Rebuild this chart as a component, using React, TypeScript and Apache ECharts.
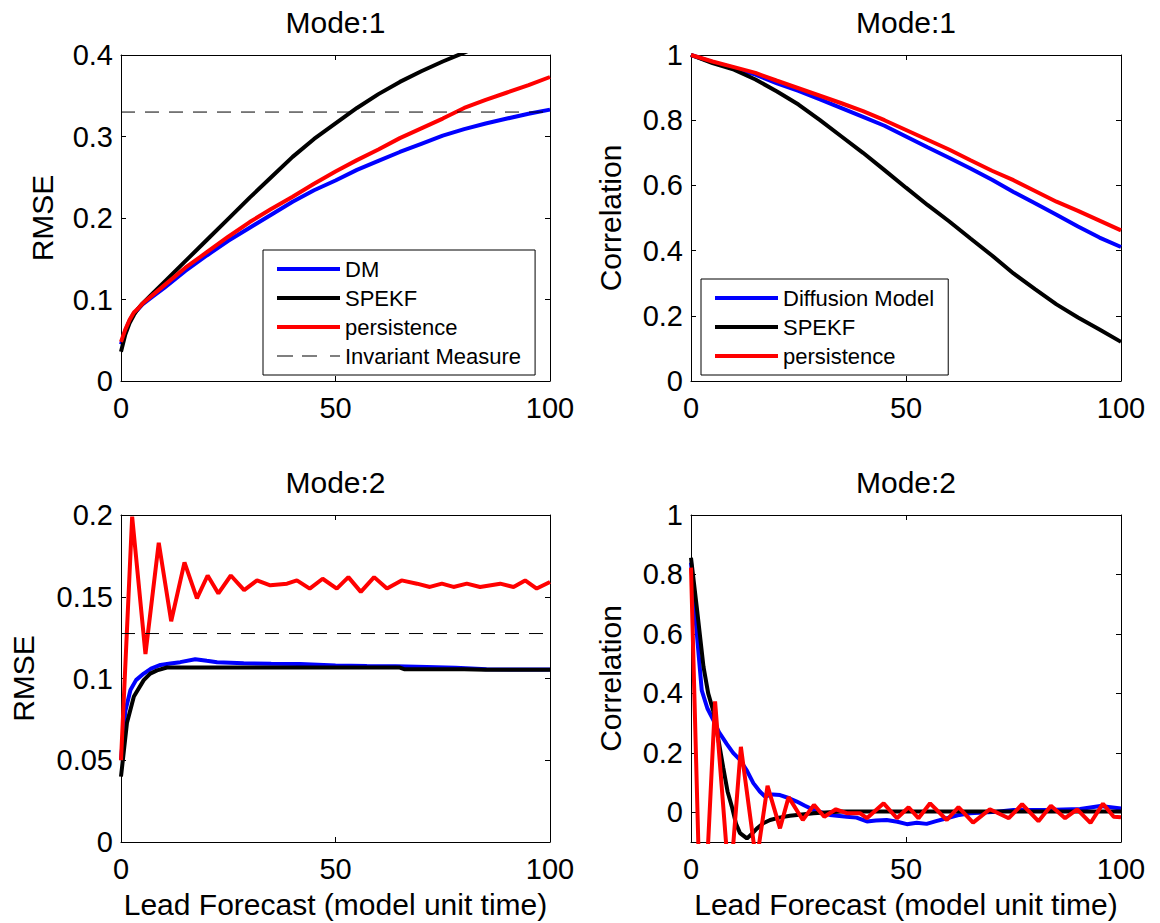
import React, { useEffect, useRef } from 'react';
import * as echarts from 'echarts';

const FONT = "'Liberation Sans', Arial, Helvetica, sans-serif";

// ---- texts ----
const titles = ['Mode:1', 'Mode:1', 'Mode:2', 'Mode:2'];
const rmseName = 'RMSE';
const corrName = 'Correlation';
const xName = 'Lead Forecast (model unit time)';

// ---- Mode 1 RMSE ----
const m1RmseX = [0, 1, 2, 3, 4, 5, 7.5, 10, 15, 20, 25, 30, 35, 40, 45, 50, 55, 60, 65, 70, 75, 80, 85, 90, 95, 100];
const m1RmseDM = [0.045, 0.062, 0.074, 0.083, 0.088, 0.094, 0.104, 0.114, 0.135, 0.154, 0.172, 0.188, 0.204, 0.22, 0.234, 0.246, 0.259, 0.27, 0.281, 0.291, 0.301, 0.309, 0.316, 0.322, 0.328, 0.333];
const m1RmseSPEKF = [0.036, 0.057, 0.071, 0.081, 0.089, 0.095, 0.108, 0.121, 0.147, 0.173, 0.199, 0.225, 0.25, 0.275, 0.297, 0.316, 0.335, 0.352, 0.367, 0.38, 0.392, 0.403, 0.414, 0.426, 0.437, 0.448];
const m1RmsePers = [0.048, 0.063, 0.075, 0.084, 0.089, 0.095, 0.106, 0.117, 0.139, 0.158, 0.177, 0.195, 0.211, 0.226, 0.242, 0.257, 0.271, 0.284, 0.298, 0.31, 0.322, 0.335, 0.345, 0.354, 0.363, 0.373];
const m1Invariant = 0.33;

// ---- Mode 1 Correlation ----
const m1CorrX = [0, 5, 10, 15, 20, 25, 30, 35, 40, 45, 50, 55, 60, 65, 70, 75, 80, 85, 90, 95, 100];
const m1CorrDM = [1, 0.978, 0.96, 0.94, 0.913, 0.89, 0.864, 0.837, 0.81, 0.783, 0.75, 0.717, 0.685, 0.652, 0.617, 0.58, 0.545, 0.51, 0.474, 0.44, 0.411];
const m1CorrSPEKF = [1, 0.975, 0.955, 0.925, 0.888, 0.848, 0.8, 0.75, 0.7, 0.647, 0.593, 0.54, 0.49, 0.437, 0.385, 0.33, 0.282, 0.235, 0.195, 0.158, 0.12];
const m1CorrPers = [1, 0.98, 0.963, 0.945, 0.921, 0.898, 0.875, 0.852, 0.828, 0.8, 0.77, 0.74, 0.71, 0.677, 0.645, 0.616, 0.583, 0.55, 0.522, 0.492, 0.462];

// ---- Mode 2 RMSE ([lead, value]) ----
const m2RmseDM = [[0, 0.05], [1, 0.08], [2.2, 0.093], [3.5, 0.099], [5.3, 0.103], [7, 0.106], [9.2, 0.1083], [11.5, 0.1092], [13.8, 0.11], [17.3, 0.1118], [20, 0.1108], [22.4, 0.11], [28.6, 0.1094], [35, 0.109], [41.8, 0.1088], [50, 0.108], [57.3, 0.1077], [64, 0.1075], [71.3, 0.107], [78, 0.1065], [85.2, 0.1057], [92, 0.1055], [100, 0.1055]];
const m2RmseSPEKF = [[0, 0.04], [1.4, 0.073], [3, 0.089], [5.3, 0.099], [6.8, 0.103], [8.4, 0.105], [10.7, 0.1067], [20, 0.1067], [40, 0.1067], [65, 0.1067], [66, 0.1057], [80, 0.1057], [85, 0.1053], [100, 0.1053]];
const m2RmsePers = [[0, 0.05], [2.6, 0.199], [5.7, 0.115], [8.8, 0.183], [11.7, 0.135], [14.8, 0.171], [17.7, 0.149], [20.2, 0.163], [22.7, 0.152], [25.6, 0.163], [28.7, 0.154], [31.7, 0.16], [34.8, 0.157], [38.7, 0.158], [41, 0.16], [44, 0.155], [47, 0.161], [50.3, 0.155], [53, 0.162], [55.9, 0.153], [59, 0.162], [62, 0.155], [65.4, 0.16], [69, 0.158], [72, 0.156], [74.8, 0.158], [77.5, 0.156], [80.6, 0.158], [83.7, 0.156], [88.4, 0.158], [91.5, 0.156], [94.2, 0.16], [96.9, 0.155], [100, 0.159]];
const m2Invariant = 0.1275;

// ---- Mode 2 Correlation ([lead, value]) ----
const m2CorrDM = [[0, 0.84], [1, 0.66], [2.5, 0.41], [3.8, 0.35], [5.2, 0.31], [6.5, 0.27], [8.3, 0.23], [9.8, 0.2], [11.4, 0.176], [13, 0.14], [14.5, 0.098], [16, 0.07], [17.2, 0.053], [19, 0.06], [20.7, 0.058], [22.7, 0.048], [24.6, 0.036], [26.5, 0.022], [28.5, 0.008], [32.3, -0.009], [36.2, -0.015], [38.5, -0.018], [40.9, -0.031], [43, -0.028], [45.5, -0.026], [48, -0.032], [50.2, -0.04], [52.5, -0.035], [54.8, -0.039], [57, -0.03], [59.5, -0.02], [62, -0.01], [64.9, -0.003], [71.1, 0.002], [75, 0.008], [82.8, 0.008], [90.5, 0.011], [95.2, 0.021], [100, 0.013]];
const m2CorrSPEKF = [[0, 0.856], [1.5, 0.67], [2.9, 0.49], [4, 0.4], [5.2, 0.34], [6.3, 0.25], [7.5, 0.15], [8.5, 0.07], [9.5, 0.019], [10.5, -0.04], [11.4, -0.07], [13, -0.088], [14, -0.075], [15.3, -0.055], [16.8, -0.037], [18.4, -0.026], [20.5, -0.018], [23, -0.012], [28.5, -0.003], [35, 0.003], [50, 0.003], [70, 0.003], [100, 0.003]];
const m2CorrPers = [[0, 0.823], [2.5, -0.54], [5.6, 0.373], [9, -0.26], [11.6, 0.22], [15.2, -0.17], [17.8, 0.089], [20.7, -0.054], [22.7, 0.051], [26, -0.026], [28.6, 0.025], [31, -0.015], [33.7, 0.01], [36.2, -0.003], [39.3, -0.003], [40.9, -0.02], [44.8, 0.03], [47.9, -0.02], [50.6, 0.017], [52.9, -0.02], [55.6, 0.03], [59.5, -0.026], [62.2, 0.017], [65.6, -0.035], [69.5, 0.01], [73.9, -0.02], [77, 0.027], [80.8, -0.03], [83.7, 0.022], [87, -0.02], [89.8, 0.01], [92.9, -0.036], [95.8, 0.029], [98.3, -0.015], [100, -0.017]];

// ---- axes ----
const xTicks = { min: 0, max: 100, interval: 50 };
const yAxesDef = [
  { min: 0, max: 0.4, interval: 0.1, ticks: null as number[] | null, name: rmseName, gap: 64 },
  { min: 0, max: 1, interval: 0.2, ticks: null as number[] | null, name: corrName, gap: 66 },
  { min: 0, max: 0.2, interval: 0.05, ticks: null as number[] | null, name: rmseName, gap: 83 },
  { min: -0.1, max: 1, interval: 0.1, ticks: [0, 0.2, 0.4, 0.6, 0.8, 1], name: corrName, gap: 66 },
];

const BLUE = '#0000ff';
const BLACK = '#000000';
const RED = '#ff0000';

const zip = (xs: number[], ys: number[]) => xs.map((x, i) => [x, ys[i]]);

export default function App() {
  const ref = useRef<HTMLDivElement>(null);
  useEffect(() => {
    if (!ref.current) return;
    const chart = echarts.init(ref.current, null, { renderer: 'svg' });

    const grids = [
      { left: 121, top: 55, width: 429, height: 326 },
      { left: 691, top: 55, width: 430, height: 326 },
      { left: 121, top: 515, width: 429, height: 327 },
      { left: 691, top: 515, width: 430, height: 327 },
    ];

    const lbl = { fontSize: 29, color: '#000', fontFamily: FONT, lineHeight: 30 };
    const nameStyle = { fontSize: 30, color: '#000', fontFamily: FONT, lineHeight: 30 };
    const axLine = { show: true, onZero: false, lineStyle: { color: '#000', width: 1 } };
    const tick = { show: true, inside: true, length: 5, lineStyle: { color: '#000', width: 1 } };

    const xAxis: any[] = [];
    const yAxis: any[] = [];
    grids.forEach((_, g) => {
      const bottomRow = g >= 2;
      xAxis.push({
        type: 'value', gridIndex: g, position: 'bottom', ...xTicks,
        axisLine: axLine, axisTick: tick,
        axisLabel: { ...lbl, margin: 12 },
        splitLine: { show: false },
        name: bottomRow ? xName : '', nameLocation: 'middle', nameGap: 47, nameTextStyle: nameStyle,
      });
      xAxis.push({
        type: 'value', gridIndex: g, position: 'top', ...xTicks,
        axisLine: axLine, axisTick: tick, axisLabel: { show: false }, splitLine: { show: false },
      });
      const d = yAxesDef[g];
      const tickExtra = d.ticks ? { customValues: d.ticks } : {};
      yAxis.push({
        type: 'value', gridIndex: g, position: 'left', min: d.min, max: d.max, interval: d.interval,
        axisLine: axLine, axisTick: { ...tick, ...tickExtra },
        axisLabel: { ...lbl, margin: 8, ...tickExtra },
        splitLine: { show: false },
        name: d.name, nameLocation: 'middle', nameGap: d.gap, nameTextStyle: nameStyle,
      });
      yAxis.push({
        type: 'value', gridIndex: g, position: 'right', min: d.min, max: d.max, interval: d.interval,
        axisLine: axLine, axisTick: { ...tick, ...tickExtra }, axisLabel: { show: false }, splitLine: { show: false },
      });
    });

    const line = (name: string, g: number, data: number[][], color: string, width = 4, type: any = 'solid') => ({
      type: 'line', name, xAxisIndex: g * 2, yAxisIndex: g * 2, data,
      symbol: 'none', showSymbol: false, clip: true, silent: true,
      lineStyle: { color, width, type }, itemStyle: { color },
      emphasis: { disabled: true },
    });

    const series = [
      line('DM', 0, zip(m1RmseX, m1RmseDM), BLUE),
      line('SPEKF', 0, zip(m1RmseX, m1RmseSPEKF), BLACK),
      line('persistence', 0, zip(m1RmseX, m1RmsePers), RED),
      line('Invariant Measure', 0, [[0, m1Invariant], [100, m1Invariant]], '#000', 1, [14, 10]),
      line('Diffusion Model', 1, zip(m1CorrX, m1CorrDM), BLUE),
      line('SPEKF', 1, zip(m1CorrX, m1CorrSPEKF), BLACK),
      line('persistence', 1, zip(m1CorrX, m1CorrPers), RED),
      line('DM', 2, m2RmseDM, BLUE),
      line('SPEKF', 2, m2RmseSPEKF, BLACK),
      line('persistence', 2, m2RmsePers, RED),
      line('Invariant Measure', 2, [[0, m2Invariant], [100, m2Invariant]], '#000', 1, [14, 10]),
      line('Diffusion Model', 3, m2CorrDM, BLUE),
      line('SPEKF', 3, m2CorrSPEKF, BLACK),
      line('persistence', 3, m2CorrPers, RED),
    ];

    const SOLID = 'path://M0,0h63v4h-63z';
    const DASH = 'path://M0,0h16v1.2h-16z M25,0h15v1.2h-15z M53,0h10v1.2h-10z';
    const legendBase = {
      orient: 'vertical', itemWidth: 63, itemHeight: 20, itemGap: 7, itemTextGap: 8,
      padding: [8, 14, 8, 14], borderColor: '#000', borderWidth: 1, backgroundColor: '#fff',
      textStyle: { fontSize: 22, color: '#000', fontFamily: FONT, lineHeight: 20 },
      selectedMode: false, itemStyle: { borderWidth: 0 }, borderRadius: 0,
    };

    const option: any = {
      animation: false,
      backgroundColor: '#fff',
      title: grids.map((gr, i) => ({
        text: titles[i], left: gr.left + gr.width / 2, top: i < 2 ? 7 : 467, textAlign: 'center', padding: 0,
        textStyle: { fontSize: 30, fontWeight: 'normal', color: '#000', fontFamily: FONT, lineHeight: 30 },
      })),
      grid: grids.map((gr) => ({ ...gr, containLabel: false })),
      xAxis, yAxis, series,
      legend: [
        {
          ...legendBase, left: 263, top: 250,
          data: [
            { name: 'DM', icon: SOLID }, { name: 'SPEKF', icon: SOLID },
            { name: 'persistence', icon: SOLID }, { name: 'Invariant Measure', icon: DASH },
          ],
        },
        {
          ...legendBase, left: 701, top: 279,
          data: [
            { name: 'Diffusion Model', icon: SOLID }, { name: 'SPEKF', icon: SOLID },
            { name: 'persistence', icon: SOLID },
          ],
        },
      ],
    };
    chart.setOption(option);
    return () => chart.dispose();
  }, []);

  return <div ref={ref} style={{ position: 'absolute', left: 0, top: 0, width: 1160, height: 923 }} />;
}
